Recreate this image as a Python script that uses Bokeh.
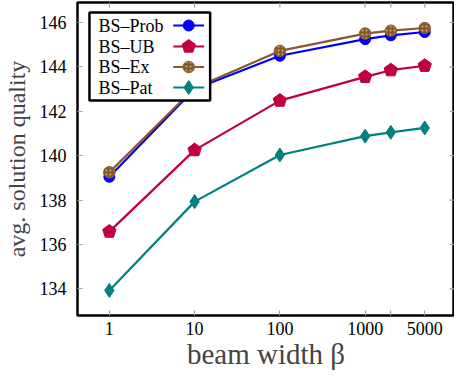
import math
from bokeh.plotting import figure
from bokeh.models import (Range1d, FixedTicker, ColumnDataSource,
                          NumeralTickFormatter)
from bokeh.core.properties import value
from bokeh.embed import file_html
from bokeh.resources import INLINE

# ---- data -------------------------------------------------------------
beam = [1, 10, 100, 1000, 2000, 5000]
bs_prob = [139.05, 143.0, 144.5, 145.25, 145.42, 145.57]
bs_ub = [136.58, 140.25, 142.48, 143.55, 143.85, 144.05]
bs_ex = [139.25, 143.05, 144.72, 145.5, 145.63, 145.75]
bs_pat = [133.93, 137.93, 140.03, 140.88, 141.05, 141.25]
series_names = ["BS\u2013Prob", "BS\u2013UB", "BS\u2013Ex", "BS\u2013Pat"]
x_labeled_ticks = [1, 10, 100, 1000, 5000]
x_unlabeled_ticks = [2000]
x_all_ticks = [1, 10, 100, 1000, 2000, 5000]
y_ticks = [134, 136, 138, 140, 142, 144, 146]

FONT = "Liberation Serif"
TICK_GRAY = "#a0a0a0"
XMIN, XMAX = 0.423, 11170
YMIN, YMAX = 132.8, 146.9
W, H = 454, 376
BL, BR, BT, BB = 76, 0, 2, 61

p = figure(width=W, height=H, x_axis_type="log",
           x_range=Range1d(XMIN, XMAX), y_range=Range1d(YMIN, YMAX),
           output_backend="svg", toolbar_location=None,
           min_border_left=BL, min_border_right=BR, min_border_top=BT,
           min_border_bottom=BB)
p.xgrid.visible = False
p.ygrid.visible = False
p.outline_line_color = "black"
p.outline_line_width = 2.5
p.outline_line_alpha = 1.0
p.background_fill_color = "white"
p.border_fill_color = "white"


def style_axis(ax):
    ax.axis_line_color = None
    ax.major_tick_in = 5
    ax.major_tick_out = 0
    ax.major_tick_line_color = TICK_GRAY
    ax.major_tick_line_width = 1.2
    ax.minor_tick_in = 5
    ax.minor_tick_out = 0
    ax.minor_tick_line_color = TICK_GRAY
    ax.minor_tick_line_width = 1.2
    ax.major_label_text_font = FONT
    ax.major_label_text_color = "black"
    ax.major_label_text_font_size = "18px"


xa = p.xaxis[0]
xa.ticker = FixedTicker(ticks=x_labeled_ticks, minor_ticks=x_unlabeled_ticks)
xa.formatter = NumeralTickFormatter(format="0")
style_axis(xa)
xa.major_label_standoff = 6
xa.axis_label = "beam width \u03b2"
xa.axis_label_text_font = FONT
xa.axis_label_text_font_size = "29px"
xa.axis_label_text_font_style = "normal"
xa.axis_label_standoff = 0

ya = p.yaxis[0]
ya.ticker = FixedTicker(ticks=y_ticks, minor_ticks=[])
style_axis(ya)
ya.major_label_standoff = 11
ya.axis_label = "avg. solution quality"
ya.axis_label_text_font = FONT
ya.axis_label_text_font_size = "24px"
ya.axis_label_text_font_style = "normal"
ya.axis_label_standoff = 7

# ---- helpers: pixel offsets inside the frame -> data coordinates --------
frame_w = W - BL - BR
frame_h = H - BT - BB
LX0, LX1 = math.log10(XMIN), math.log10(XMAX)


def px_x(px):
    return 10 ** (LX0 + px / frame_w * (LX1 - LX0))


def px_y(py):
    return YMAX - py / frame_h * (YMAX - YMIN)


# mirrored tick marks on top and right frame edges (5 px long)
tick_px = 5
p.segment(x0=x_all_ticks, x1=x_all_ticks,
          y0=[YMAX] * len(x_all_ticks), y1=[px_y(tick_px)] * len(x_all_ticks),
          line_color=TICK_GRAY, line_width=1.2)
p.segment(x0=[XMAX] * len(y_ticks), x1=[px_x(frame_w - tick_px)] * len(y_ticks),
          y0=y_ticks, y1=y_ticks, line_color=TICK_GRAY, line_width=1.2)

BLUE = "#0000ff"
PURPLE = "#bf0040"
BROWN = "#86592b"
TEAL = "#008080"
colors = [BLUE, PURPLE, BROWN, TEAL]
values = [bs_prob, bs_ub, bs_ex, bs_pat]


def draw_marker(i, xs, ys):
    src = ColumnDataSource(dict(x=xs, y=ys))
    c = colors[i]
    if i == 0:
        p.scatter("x", "y", source=src, marker="circle", size=11,
                  fill_color=c, line_color=c)
    elif i == 1:
        try:
            p.ngon("x", "y", source=src, radius=7, radius_units="screen", n=5,
                   fill_color=c, line_color=c)
        except Exception:
            p.scatter("x", "y", source=src, marker="hex", size=12,
                      fill_color=c, line_color=c)
    elif i == 2:
        p.scatter("x", "y", source=src, marker="circle", size=11.5,
                  fill_color=c, line_color=c, hatch_pattern="dot",
                  hatch_color="#d8aa70", hatch_scale=4, hatch_weight=1.5)
    else:
        p.scatter("x", "y", source=src, marker="diamond", size=14,
                  fill_color=c, line_color=c)


for i, vals in enumerate(values):
    p.line(beam, vals, color=colors[i], line_width=2.2)
    draw_marker(i, beam, vals)

# ---- legend (label left, sample right, as in the original) -------------
box_l, box_r, box_t, box_b = 12, 133, 10, 98
p.quad(left=[px_x(box_l)], right=[px_x(box_r)], top=[px_y(box_t)],
       bottom=[px_y(box_b)], fill_color="white", line_color="black",
       line_width=2.5)
row_y = [23, 44, 64.5, 85]
label_x = 21
samp_x0, samp_x1 = 96, 127
p.text(x=[px_x(label_x)] * 4, y=[px_y(r) for r in row_y], text=series_names,
       text_font=value(FONT), text_font_size="18px", text_align="left",
       text_baseline="middle", text_color="black")
for i in range(4):
    yy = px_y(row_y[i])
    p.line([px_x(samp_x0), px_x(samp_x1)], [yy, yy], color=colors[i],
           line_width=2.2)
    draw_marker(i, [px_x((samp_x0 + samp_x1) / 2)], [yy])

open("out.html", "w").write(file_html(p, INLINE))
